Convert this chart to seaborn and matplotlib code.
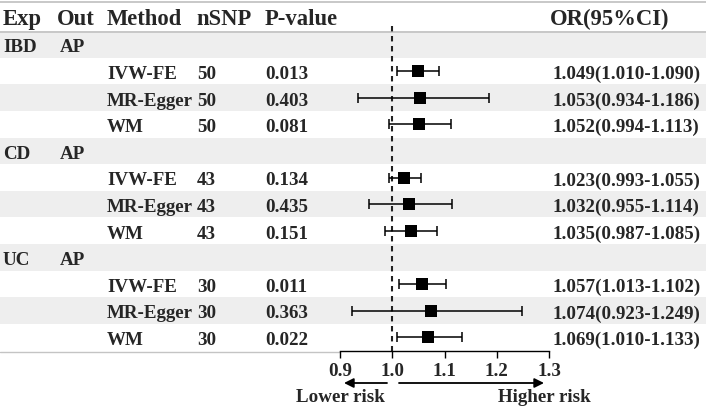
import numpy as np
import pandas as pd
import matplotlib
matplotlib.use('Agg')
import matplotlib.pyplot as plt
import seaborn as sns

# forest plot data: exposure, outcome, MR method, nSNP, p, OR and 95% CI
exposures = ['IBD', 'CD', 'UC']
outcome = 'AP'
methods = ['IVW-FE', 'MR-Egger', 'WM']
nsnp = [50, 50, 50, 43, 43, 43, 30, 30, 30]
pvals = ['0.013', '0.403', '0.081', '0.134', '0.435', '0.151', '0.011', '0.363', '0.022']
or_est = [1.049, 1.053, 1.052, 1.023, 1.032, 1.035, 1.057, 1.074, 1.069]
ci_low = [1.010, 0.934, 0.994, 0.993, 0.955, 0.987, 1.013, 0.923, 1.010]
ci_high = [1.090, 1.186, 1.113, 1.055, 1.114, 1.085, 1.102, 1.249, 1.133]
xticks = [0.9, 1.0, 1.1, 1.2, 1.3]

sns.set_theme(style='white')
plt.rcParams['font.family'] = ['Liberation Serif', 'DejaVu Serif']
plt.rcParams['font.weight'] = 'bold'

# build row table: a header row per exposure, then three method rows
rows = []
k = 1
for i, e in enumerate(exposures):
    rows.append(dict(row=k, exp=e, out=outcome, kind='head'))
    k += 1
    for j, m in enumerate(methods):
        idx = i * 3 + j
        rows.append(dict(row=k, kind='est', method=m, nsnp=str(nsnp[idx]), p=pvals[idx],
                         OR=or_est[idx], lo=ci_low[idx], hi=ci_high[idx]))
        k += 1
df = pd.DataFrame(rows)
est = df[df.kind == 'est']

W, H = 706, 409
y0, rh = 17.9, 26.6  # pixel of row 0 centre, row height
def prow(p):
    return (p - y0) / rh

fig = plt.figure(figsize=(W / 100, H / 100), dpi=100)
bg = fig.add_axes([0, 0, 1, 1])
bg.set_xlim(0, W)
bg.set_ylim(prow(H), prow(0))
bg.axis('off')

# stripes
for r in df.row:
    if r % 2 == 1:
        bg.axhspan(r - 0.5, r + 0.5, color='#eeeeee', lw=0, zorder=0)
bg.axhline(prow(2), color='#c4c4c4', lw=1.3)
bg.axhline(prow(32), color='#c4c4c4', lw=1.3)
bg.plot([0, 340], [prow(352), prow(352)], color='#c4c4c4', lw=1.0)

hs, bs = 16.3, 13.7
ty = 0.13
heads = [(3, 'Exp'), (57, 'Out'), (107, 'Method'), (196, 'nSNP'), (265, 'P-value'), (550, 'OR(95%CI)')]
for x, t in heads:
    bg.text(x, 0 + 0.05, t, fontsize=hs, fontweight='bold', va='center', ha='left')

for _, r in df.iterrows():
    y = r.row + ty
    if r.kind == 'head':
        bg.text(3, y, r.exp, fontsize=bs, fontweight='bold', va='center')
        bg.text(60, y, r.out, fontsize=bs, fontweight='bold', va='center')
    else:
        bg.text(107, y, r.method, fontsize=bs, fontweight='bold', va='center')
        bg.text(197, y, r.nsnp, fontsize=bs, fontweight='bold', va='center')
        bg.text(265, y, r.p, fontsize=bs, fontweight='bold', va='center')
        bg.text(553, y, f'{r.OR:.3f}({r.lo:.3f}-{r.hi:.3f})', fontsize=bs,
                fontweight='bold', va='center')

# forest axes
ax_bottom = 351
fa = fig.add_axes([340 / W, (H - ax_bottom) / H, (549 - 340) / W, ax_bottom / H])
fa.patch.set_alpha(0)
for s in ['top', 'left', 'right']:
    fa.spines[s].set_visible(False)
fa.spines['bottom'].set_color('black')
fa.spines['bottom'].set_linewidth(1.0)

fa.plot([1.0, 1.0], [prow(26), prow(ax_bottom)], color='#222222', lw=1.5,
        ls=(0, (2.6, 2.2)), zorder=1)
fa.errorbar(est.OR, est.row, xerr=[est.OR - est.lo, est.hi - est.OR], fmt='none',
            ecolor='black', elinewidth=1.1, capsize=3.5, capthick=1.1, zorder=2)
sns.scatterplot(data=est, x='OR', y='row', marker='s', s=85, color='black',
                edgecolor='black', linewidth=0, ax=fa, zorder=3, legend=False)
fa.set_xlabel('')
fa.set_ylabel('')
fa.set_xlim(0.9, 1.3)
fa.set_ylim(prow(ax_bottom), prow(0))
fa.set_xticks(xticks)
fa.set_xticklabels([f'{t:.1f}' for t in xticks], fontsize=bs, fontweight='bold')
fa.set_yticks([])
fa.tick_params(axis='x', direction='out', length=5, width=1.0, color='black', pad=4,
               bottom=True)

# risk arrows
ay = prow(383)
bg.annotate('', xy=(344, ay), xytext=(387, ay),
            arrowprops=dict(arrowstyle='-|>', color='black', lw=1.3, mutation_scale=14,
                            shrinkA=0, shrinkB=0))
bg.annotate('', xy=(544, ay), xytext=(399, ay),
            arrowprops=dict(arrowstyle='-|>', color='black', lw=1.3, mutation_scale=14,
                            shrinkA=0, shrinkB=0))
bg.text(385, prow(397), 'Lower risk', fontsize=bs, fontweight='bold', ha='right', va='center')
bg.text(498, prow(397), 'Higher risk', fontsize=bs, fontweight='bold', ha='left', va='center')

fig.savefig('out.png', dpi=100)
